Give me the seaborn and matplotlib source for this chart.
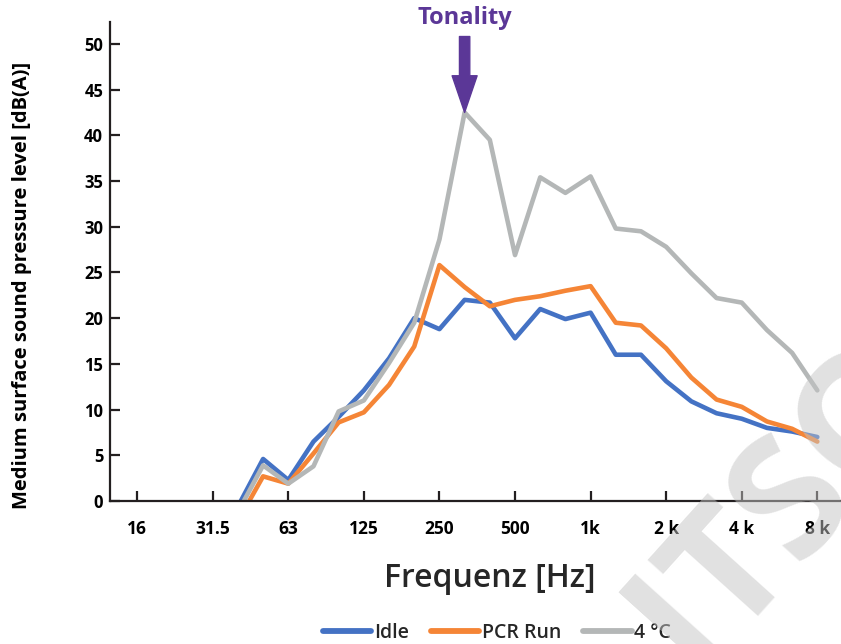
import numpy as np
import pandas as pd
import matplotlib
matplotlib.use("Agg")
import matplotlib.pyplot as plt
import seaborn as sns

# --- Data (third-octave bands) ---
bands = ["16", "20", "25", "31.5", "40", "50", "63", "80", "100", "125", "160", "200",
         "250", "315", "400", "500", "630", "800", "1k", "1.25k", "1.6k", "2k",
         "2.5k", "3.15k", "4k", "5k", "6.3k", "8k"]
idle = [np.nan, np.nan, np.nan, np.nan, -0.6, 4.6, 2.3, 6.5, 9.2, 12.1, 15.6, 20.0,
        18.8, 22.0, 21.7, 17.8, 21.0, 19.9, 20.6, 16.0, 16.0, 13.1,
        10.9, 9.6, 9.0, 8.0, 7.6, 7.0]
pcr_run = [np.nan, np.nan, np.nan, np.nan, -2.2, 2.7, 1.9, 5.2, 8.6, 9.7, 12.7, 16.9,
           25.8, 23.4, 21.3, 22.0, 22.4, 23.0, 23.5, 19.5, 19.2, 16.7,
           13.5, 11.1, 10.3, 8.7, 7.9, 6.5]
cold_4c = [np.nan, np.nan, np.nan, np.nan, -1.2, 3.9, 1.9, 3.8, 9.8, 11.0, 15.1, 19.5,
           28.6, 42.5, 39.5, 26.9, 35.4, 33.7, 35.5, 29.8, 29.5, 27.8,
           24.9, 22.2, 21.7, 18.7, 16.2, 12.1]
tick_labels = ["16", "31.5", "63", "125", "250", "500", "1k", "2 k", "4 k", "8 k"]
series_names = ["Idle", "PCR Run", "4 °C"]

colors = {"Idle": "#4472C4", "PCR Run": "#F58536", "4 °C": "#B4B7B7"}
purple = "#5B3797"

sns.set_theme(style="white")
plt.rcParams["font.family"] = ["Open Sans", "DejaVu Sans"]

df = pd.DataFrame({"pos": np.arange(len(bands)),
                   "Idle": idle, "PCR Run": pcr_run, "4 °C": cold_4c})
long = df.melt(id_vars="pos", var_name="series", value_name="level").dropna()

fig = plt.figure(figsize=(8.41, 6.44), dpi=100)
ax = fig.add_axes([0.131, 0.222, 0.869, 0.744])

sns.lineplot(data=long, x="pos", y="level", hue="series", hue_order=series_names,
             palette=colors, linewidth=3.3, ax=ax, legend=False, sort=False)

ax.set_xlim(-1.07, 27.94)
ax.set_ylim(0, 52.4)
ax.set_yticks(range(0, 51, 5))
ax.set_xticks(range(0, len(bands), 3))
ax.set_xticklabels(tick_labels)

for side in ["top", "right"]:
    ax.spines[side].set_visible(False)
for side in ["left", "bottom"]:
    ax.spines[side].set_color("#231f20")
    ax.spines[side].set_linewidth(1.6)

ax.tick_params(axis="y", direction="in", length=7, width=1.6, color="#231f20",
               labelsize=12, pad=5, left=True)
ax.tick_params(axis="x", direction="in", length=7, width=1.6, color="#231f20",
               labelsize=12.5, pad=14, bottom=True)
for lab in ax.get_xticklabels() + ax.get_yticklabels():
    lab.set_fontweight("bold")
    lab.set_color("black")

ax.set_xlabel("")
ax.set_ylabel("Medium surface sound pressure level [dB(A)]", fontsize=14.5,
              fontweight="bold", color="black")
ax.yaxis.set_label_coords(-0.107, 0.45)
fig.text(0.582, 0.102, "Frequenz [Hz]", fontsize=23, fontweight="semibold",
         color="#262626", ha="center", va="center")

# Tonality arrow
peak = int(np.nanargmax(cold_4c))
ax.annotate("", xy=(peak, cold_4c[peak]), xytext=(peak, 50.8),
            arrowprops=dict(arrowstyle="simple,head_length=2.2,head_width=1.5,tail_width=0.62",
                            color=purple, shrinkA=0, shrinkB=0), annotation_clip=False)
ax.text(peak, 52.8, "Tonality", fontsize=17, fontweight="bold", color=purple,
        ha="center", va="center", clip_on=False)

# Legend
handles = [plt.Line2D([], [], color=colors[n], linewidth=4.2) for n in series_names]
leg = fig.legend(handles, series_names, loc="center", bbox_to_anchor=(0.591, 0.017),
                 ncol=3, frameon=False, fontsize=14, handlelength=2.5,
                 handletextpad=0.15, columnspacing=1.1)
for t in leg.get_texts():
    t.set_color("#262626")
    t.set_fontweight("semibold")

# Watermark
fig.text(0.935, 0.22, "ITSO", fontsize=120, fontweight="bold", color="#c4c4c4",
         alpha=0.5, rotation=48, ha="center", va="center", zorder=10)

fig.savefig("out.png", dpi=100)
